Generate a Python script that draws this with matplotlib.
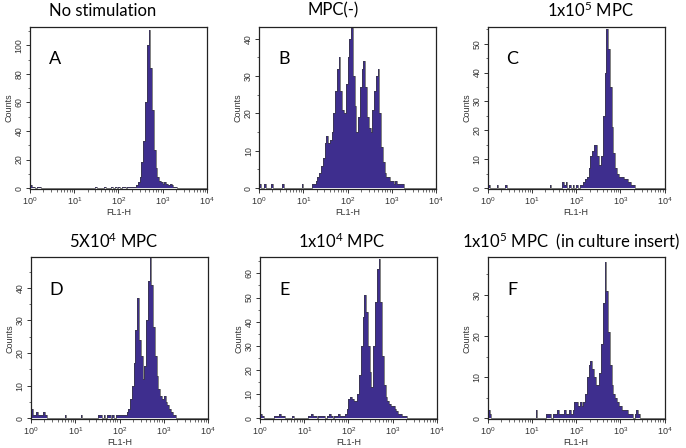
import numpy as np
import matplotlib
matplotlib.use("Agg")
import matplotlib.pyplot as plt
from matplotlib.ticker import LogLocator, MultipleLocator, NullFormatter

plt.rcParams['font.family'] = ['Liberation Sans', 'DejaVu Sans']
plt.rcParams['mathtext.fontset'] = 'custom'
plt.rcParams['mathtext.rm'] = 'Lato'
plt.rcParams['mathtext.it'] = 'Lato:italic'
plt.rcParams['mathtext.bf'] = 'Lato:bold'

# log10 bin width 0.04 -> 25 bins per decade, 10^0 .. 10^4
bin_step = 0.04
n_bins = 100

titles = ["No stimulation", "MPC(-)", r"1x10$^{\mathrm{5}}$ MPC",
          r"5X10$^{\mathrm{4}}$ MPC", r"1x10$^{\mathrm{4}}$ MPC",
          r"1x10$^{\mathrm{5}}$ MPC  (in culture insert)"]
letters = ["A", "B", "C", "D", "E", "F"]

# counts per bin, one row per decade
A_counts = (
    [2, 1, 1, 0, 1, 1, 0, 0, 0, 0, 0, 0, 0, 0, 0, 0, 0, 0, 0, 0, 0, 0, 0, 0, 0] +
    [0, 0, 0, 0, 0, 0, 0, 0, 0, 0, 0, 0, 1, 0, 0, 0, 0, 1, 0, 0, 0, 1, 0, 1, 0] +
    [1, 0, 1, 1, 0, 1, 1, 1, 1, 1, 2, 4, 8, 18, 33, 60, 100, 111, 84, 55, 27, 14, 8, 5, 4] +
    [3, 4, 3, 2, 3, 2, 1, 1, 0, 0, 0, 0, 0, 0, 0, 0, 0, 0, 0, 0, 0, 0, 0, 0, 0])
B_counts = (
    [1, 0, 0, 1, 0, 0, 0, 1, 0, 0, 0, 0, 0, 1, 0, 0, 0, 0, 0, 0, 0, 0, 0, 0, 1] +
    [0, 0, 0, 0, 0, 1, 1, 2, 3, 4, 6, 8, 12, 14, 12, 13, 15, 20, 26, 32, 35, 26, 21, 20, 28] +
    [35, 40, 43, 30, 22, 15, 19, 27, 32, 34, 27, 19, 16, 15, 21, 26, 30, 32, 20, 11, 7, 4, 3, 3, 2] +
    [2, 1, 2, 1, 1, 1, 1, 0, 0, 0, 0, 0, 0, 0, 0, 0, 0, 0, 0, 0, 0, 0, 0, 0, 0])
C_counts = (
    [1, 0, 0, 0, 0, 1, 0, 0, 0, 0, 1, 0, 0, 0, 0, 0, 0, 0, 0, 0, 0, 0, 0, 0, 0] +
    [0, 0, 0, 0, 0, 0, 0, 0, 0, 0, 1, 0, 0, 0, 0, 0, 0, 2, 1, 2, 0, 1, 0, 1, 0] +
    [1, 0, 1, 1, 2, 3, 4, 7, 11, 13, 15, 15, 11, 8, 11, 25, 40, 55, 48, 35, 21, 12, 7, 5, 4] +
    [4, 4, 3, 3, 2, 2, 1, 1, 0, 0, 0, 0, 0, 0, 0, 0, 0, 0, 0, 0, 0, 0, 0, 0, 0])
D_counts = (
    [3, 1, 1, 2, 1, 1, 1, 2, 1, 0, 0, 0, 0, 0, 0, 0, 0, 0, 0, 1, 0, 0, 0, 0, 0] +
    [0, 0, 0, 1, 0, 0, 0, 0, 0, 0, 0, 0, 0, 1, 1, 0, 1, 0, 1, 1, 0, 1, 0, 1, 1] +
    [1, 1, 1, 1, 2, 3, 6, 10, 17, 27, 37, 24, 19, 12, 16, 30, 42, 49, 41, 28, 19, 13, 9, 7, 6] +
    [7, 5, 4, 3, 2, 1, 1, 0, 0, 0, 0, 0, 0, 0, 0, 0, 0, 0, 0, 0, 0, 0, 0, 0, 0])
E_counts = (
    [2, 1, 0, 0, 0, 0, 0, 0, 1, 1, 1, 2, 1, 1, 0, 0, 0, 0, 1, 0, 0, 0, 0, 0, 0] +
    [0, 0, 1, 1, 2, 1, 1, 0, 1, 1, 1, 1, 0, 1, 2, 1, 0, 1, 1, 2, 1, 1, 1, 2, 4] +
    [8, 9, 8, 7, 7, 10, 18, 30, 42, 51, 44, 30, 19, 13, 30, 48, 62, 66, 48, 26, 14, 9, 7, 6, 5] +
    [5, 4, 3, 2, 2, 1, 1, 1, 0, 0, 0, 0, 0, 0, 0, 0, 0, 0, 0, 0, 0, 0, 0, 0, 0])
F_counts = (
    [2, 1, 0, 0, 0, 0, 0, 0, 0, 0, 0, 0, 0, 0, 0, 0, 0, 0, 0, 0, 0, 0, 0, 0, 0] +
    [0, 0, 2, 0, 0, 0, 0, 0, 1, 1, 1, 0, 1, 1, 2, 1, 1, 1, 2, 1, 1, 2, 1, 2, 4] +
    [4, 3, 4, 3, 4, 6, 10, 13, 14, 12, 10, 8, 8, 11, 18, 28, 38, 31, 21, 13, 8, 6, 5, 4, 3] +
    [3, 2, 2, 2, 1, 1, 1, 0, 1, 2, 1, 0, 0, 0, 0, 0, 0, 0, 0, 0, 0, 0, 0, 0, 0])

all_counts = [A_counts, B_counts, C_counts, D_counts, E_counts, F_counts]
y_tops = [113, 43.2, 55.8, 49.4, 66.7, 39.2]
y_major = [20, 10, 10, 10, 10, 10]

# layout (figure fractions)
lefts = [0.0437, 0.3776, 0.711, 0.0452, 0.379, 0.711]
bottoms = [0.578, 0.578, 0.578, 0.064, 0.064, 0.064]
width = 0.258
height = 0.362
title_x = [0.41, 0.42, 0.58, 0.47, 0.46, 0.47]

fill_color = '#3e2e8e'
edge_color = '#3a3a3a'

fig = plt.figure(figsize=(6.86, 4.48), dpi=100)
edges = 10 ** (np.arange(n_bins + 1) * bin_step)

for i in range(6):
    ax = fig.add_axes([lefts[i], bottoms[i], width, height])
    counts = np.array(all_counts[i], dtype=float)
    ax.stairs(counts, edges, fill=True, color=fill_color, lw=0)
    ax.stairs(counts, edges, color=edge_color, lw=0.45, baseline=None)
    ax.set_xscale('log')
    ax.set_xlim(1, 1e4)
    ax.set_ylim(-y_tops[i] * 0.006, y_tops[i])
    ax.xaxis.set_major_locator(LogLocator(base=10, numticks=10))
    ax.xaxis.set_minor_locator(LogLocator(base=10, subs=np.arange(2, 10), numticks=50))
    ax.xaxis.set_minor_formatter(NullFormatter())
    ax.yaxis.set_major_locator(MultipleLocator(y_major[i]))
    ax.yaxis.set_minor_locator(MultipleLocator(y_major[i] / 2))
    ax.tick_params(axis='both', which='major', direction='out', length=3, width=0.7,
                   labelsize=6.5, colors='#333333', pad=1.5)
    ax.tick_params(axis='both', which='minor', direction='out', length=1.8, width=0.5,
                   colors='#333333')
    ax.tick_params(axis='y', labelsize=6.3, labelrotation=90)
    for lbl in ax.get_yticklabels():
        lbl.set_va('center')
    for sp in ax.spines.values():
        sp.set_linewidth(0.9)
        sp.set_color('#222222')
    ax.set_xlabel('FL1-H', fontsize=6.5, color='#333333', labelpad=0.5)
    ax.set_ylabel('Counts', fontsize=6.5, color='#333333', labelpad=1)
    ax.text(0.14, 0.80, letters[i], transform=ax.transAxes, fontsize=13,
            family='Lato', ha='center', va='center', color='black')
    ax.text(title_x[i], 1.10, titles[i], transform=ax.transAxes, fontsize=12,
            family='Lato', ha='center', va='center', color='black')

fig.savefig('out.png', dpi=100)
